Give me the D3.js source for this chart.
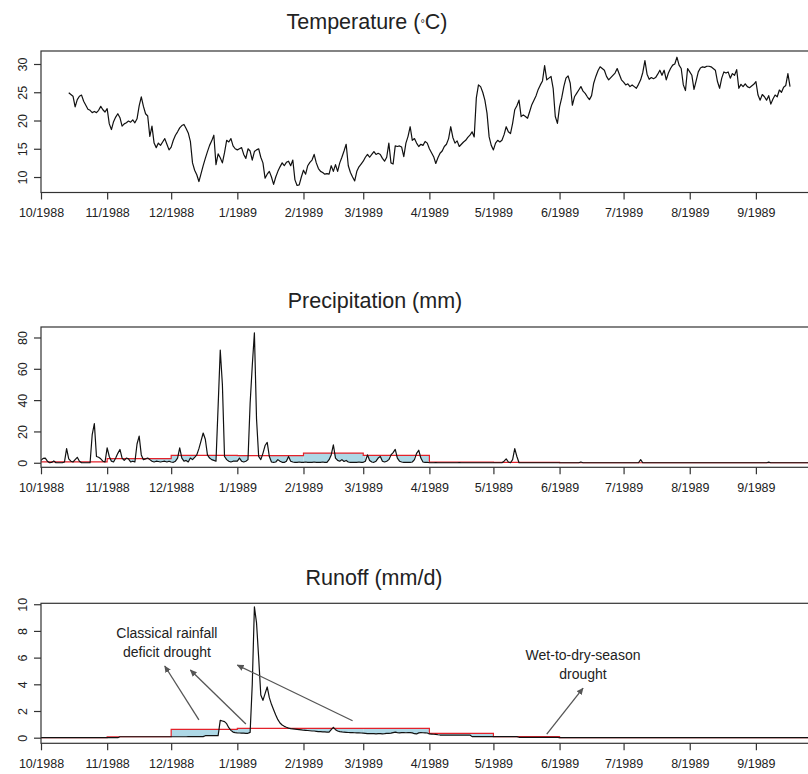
<!DOCTYPE html>
<html>
<head>
<meta charset="utf-8">
<script src="https://cdn.jsdelivr.net/npm/d3@7"></script>
<style>
  body { margin: 0; background: #fff; }
  svg { display: block; }
  text { font-family: "Liberation Sans", Arial, sans-serif; fill: #222; }
</style>
</head>
<body>
<svg id="chart" width="808" height="774"></svg>
<script>
// ---- data -------------------------------------------------------------
// Hydrological year 1 Oct 1988 - 30 Sep 1989, daily series (index = day of year)
const yearStart = new Date(Date.UTC(1988, 9, 1));
const dayCount = 365;

const monthLabels = ["10/1988", "11/1988", "12/1988", "1/1989", "2/1989", "3/1989",
                     "4/1989", "5/1989", "6/1989", "7/1989", "8/1989", "9/1989"];

// Daily mean temperature (°C), first value on day 13 (14 Oct 1988)
const temperatureFirstDay = 13;
const temperature = [
  24.9, 24.6, 24.3, 22.4, 23.7, 24.3, 24.5, 23.4,
  22.7, 22.0, 21.8, 21.4, 21.6, 21.4, 21.8, 22.5, 21.9, 21.5,
  22.1, 19.4, 18.4, 19.8, 20.6, 21.2, 20.5, 19.0, 19.4, 19.6,
  19.9, 19.7, 20.1, 19.6, 20.3, 22.6, 24.2, 22.5, 21.2, 20.8,
  17.2, 19.0, 16.0, 15.2, 16.0, 15.6, 16.2, 16.8, 15.8, 14.8,
  15.3, 16.5, 17.4, 18.0, 18.7, 19.1, 19.3, 18.6, 17.8, 16.3,
  12.5, 11.2, 10.4, 9.2, 10.6, 12.0, 13.3, 14.5, 15.6, 16.4,
  17.4, 12.2, 14.1, 13.4, 12.5, 14.3, 16.5, 16.2, 16.8, 15.5,
  15.0, 14.8, 15.0, 15.2, 14.0, 13.3, 15.0, 14.6, 13.0, 14.5,
  14.8, 15.0, 13.5, 12.5, 9.8, 10.5, 11.0, 10.0, 8.7, 10.0,
  11.0, 11.8, 12.5, 12.0, 12.6, 12.8, 12.0, 13.0, 9.5, 8.5,
  8.6, 10.0, 11.2, 10.5, 12.0, 12.6, 13.0, 14.0, 12.5, 11.5,
  11.0, 10.8, 10.5, 10.6, 10.5, 12.0, 11.0, 12.2, 11.0, 12.5,
  13.5, 14.6, 15.8, 12.0, 10.8, 10.0, 9.3, 11.0, 11.8, 12.3,
  12.8, 13.5, 14.0, 13.5, 14.0, 14.5, 14.0, 14.2, 14.0, 13.3,
  12.8, 13.5, 16.0, 12.5, 12.3, 15.5, 15.4, 15.5, 15.3, 13.6,
  16.0, 17.2, 18.9, 16.5, 16.8, 16.0, 15.4, 15.8, 15.6, 16.3,
  16.0, 15.0, 14.3, 13.6, 12.4, 13.4, 14.2, 14.6, 15.4, 15.8,
  16.8, 18.9, 17.0, 16.0, 16.4, 15.4, 15.8, 16.2, 16.5, 17.0,
  17.4, 18.0, 17.1, 24.0, 26.3, 26.0, 25.0, 23.6, 21.3, 17.1,
  15.6, 14.8, 16.0, 16.5, 16.2, 16.5, 17.5, 18.9, 18.0, 17.7,
  19.5, 21.9, 22.6, 23.6, 20.7, 21.0, 20.7, 20.4, 21.6, 22.8,
  23.6, 24.4, 25.5, 26.3, 27.0, 29.7, 27.2, 27.5, 27.8, 25.7,
  20.7, 19.5, 22.4, 24.0, 26.0, 27.5, 27.9, 26.6, 22.7, 24.2,
  24.8, 25.4, 26.0, 25.2, 24.8, 24.2, 23.7, 24.4, 26.6, 27.8,
  28.8, 29.5, 29.2, 28.9, 27.8, 27.2, 27.6, 28.0, 28.4, 29.2,
  28.2, 27.2, 26.8, 26.3, 26.5, 26.0, 26.3, 26.0, 25.7, 26.4,
  27.2, 28.5, 30.6, 28.2, 27.3, 27.6, 27.4, 27.6, 28.2, 28.9,
  28.0, 28.9, 27.2, 28.4, 29.2, 29.8, 30.0, 31.2, 29.8, 29.2,
  26.3, 25.3, 29.2, 28.6, 28.0, 25.5, 27.0, 28.6, 29.3, 29.5,
  29.4, 29.6, 29.6, 29.5, 29.2, 28.9, 26.9, 25.7, 27.5, 28.6,
  28.4, 28.6, 27.5, 28.3, 28.0, 29.0, 25.7, 26.4, 26.0, 26.5,
  26.0, 25.8, 26.1, 26.4, 26.9, 24.5, 23.6, 24.6, 24.2, 23.6,
  24.4, 22.9, 23.8, 24.5, 24.2, 25.4, 25.0, 25.9, 26.2, 28.3,
  26.0
];

// Daily precipitation (mm)
const precipitation = [
  // Oct
  1.5, 2.8, 3, 1, 0, 0.2, 1.2, 0, 0, 0, 0, 0.5, 9, 2.5, 1, 0.5, 2, 3.5, 1, 0,
  0, 0, 0, 0, 18, 25, 4, 3.5, 2.5, 1, 0.5,
  // Nov
  9.5, 4, 1, 0.5, 3, 6, 8.5, 3, 1.5, 3, 2.5, 0.5, 1, 0.5, 12, 17, 5, 2, 2.5, 3,
  2, 1, 0.5, 1, 0.8, 0.5, 0.8, 1, 0.5, 1,
  // Dec
  0.5, 0.3, 1, 3, 9.5, 3, 1, 1.5, 0.5, 3, 2, 3.5, 5, 9, 14, 19, 15, 5, 3, 2,
  1.5, 1, 36, 72, 50, 4, 2, 1, 0.5, 1, 1,
  // Jan
  1, 3, 1, 0.5, 1, 2, 38, 62, 83, 28, 4, 2, 6, 11, 13, 4, 0.5, 0.3, 0.5, 2,
  1, 0.3, 0.2, 1, 4, 1, 0.5, 0.3, 0.3, 0.5, 0.3,
  // Feb
  0.3, 0.5, 0.2, 0.3, 0.2, 0.5, 0.3, 0.2, 0.3, 0.5, 0.2, 0.3, 2, 5, 11.5, 3, 1.5, 1, 2, 0.8,
  1.5, 0.5, 0.2, 0.3, 0.2, 0.3, 0.5, 0.3,
  // Mar
  0.3, 1, 5, 1.5, 0.5, 0.3, 1, 3, 4, 1, 0.5, 1, 2, 5, 6.5, 8.5, 3, 1, 0.5, 0.3,
  0.2, 0.3, 0.2, 0.5, 2, 6, 8, 3, 0.5, 0.2, 0.3,
  // Apr
  0, 0, 0, 0.1, 0, 0, 0, 0, 0, 0, 0, 0, 0, 0, 0.1, 0, 0, 0, 0, 0,
  0, 0, 0, 0, 0, 0, 0, 0, 0, 0,
  // May
  0, 0, 0, 0, 0, 1, 2.5, 0.5, 0, 2, 9, 4, 0, 0, 0, 0, 0, 0, 0, 0,
  0, 0, 0, 0, 0, 0, 0, 0, 0, 0, 0,
  // Jun
  0, 0, 0, 0, 0, 0, 0, 0, 0, 0, 0.5, 0, 0, 0, 0, 0, 0, 0, 0, 0,
  0, 0, 0, 0, 0, 0, 0, 0, 0, 0,
  // Jul
  0, 0, 0, 0, 0, 0, 0, 0, 2, 0, 0, 0, 0, 0, 0, 0, 0, 0, 0, 0,
  0, 0, 0, 0, 0, 0, 0, 0, 0, 0, 0,
  // Aug
  0, 0, 0, 0, 0, 0, 0, 0, 0, 0, 0, 0, 0, 0, 0, 0, 0, 0, 0, 0,
  0, 0, 0, 0, 0, 0, 0, 0, 0, 0, 0,
  // Sep
  0, 0, 0, 0, 0, 0, 0.4, 0, 0, 0, 0, 0, 0, 0, 0, 0, 0, 0, 0, 0,
  0, 0, 0, 0, 0, 0, 0, 0, 0, 0
];

// Monthly precipitation threshold (mm), Oct ... Sep
const precipThreshold = [0.6, 2.6, 4.7, 4.5, 6.2, 4.7, 0.4, 0.2, 0, 0, 0, 0];

// Daily runoff (mm/d)
const runoff = [
  // Oct
  0, 0, 0, 0, 0, 0, 0, 0, 0, 0, 0, 0, 0, 0, 0, 0, 0, 0, 0, 0,
  0, 0, 0, 0, 0, 0, 0, 0, 0, 0, 0,
  // Nov
  0, 0, 0, 0, 0, 0, 0.07, 0.07, 0.07, 0.07, 0.07, 0.07, 0.07, 0.07, 0.07, 0.07, 0.07, 0.07, 0.07, 0.07,
  0.07, 0.07, 0.07, 0.07, 0.07, 0.07, 0.07, 0.07, 0.07, 0.07,
  // Dec
  0.07, 0.07, 0.07, 0.07, 0.07, 0.07, 0.07, 0.07, 0.08, 0.08, 0.08, 0.08, 0.08, 0.08, 0.08, 0.08,
  0.15, 0.15, 0.15, 0.15, 0.15, 0.15, 0.15, 1.3, 1.25, 1.2, 1.05, 0.75, 0.55, 0.42, 0.38,
  // Jan
  0.36, 0.35, 0.34, 0.34, 0.33, 0.33, 0.4, 4.0, 9.8, 8.6, 6.0, 3.2, 2.8, 3.3, 3.8, 3.0,
  2.5, 2.1, 1.7, 1.35, 1.1, 0.95, 0.85, 0.78, 0.72, 0.68, 0.66, 0.64, 0.62, 0.6, 0.58,
  // Feb
  0.56, 0.55, 0.54, 0.52, 0.5, 0.5, 0.48, 0.46, 0.45, 0.44, 0.43, 0.42, 0.42, 0.6, 0.78, 0.6,
  0.5, 0.46, 0.43, 0.41, 0.4, 0.39, 0.38, 0.38, 0.37, 0.36, 0.36, 0.35,
  // Mar
  0.34, 0.33, 0.3, 0.3, 0.31, 0.3, 0.29, 0.3, 0.3, 0.29, 0.3, 0.32, 0.33, 0.34, 0.38, 0.42,
  0.38, 0.36, 0.38, 0.38, 0.37, 0.38, 0.38, 0.36, 0.3, 0.28, 0.36, 0.38, 0.37, 0.36, 0.35,
  // Apr
  0.28, 0.27, 0.26, 0.25, 0.22, 0.2, 0.2, 0.2, 0.2, 0.2, 0.2, 0.2, 0.2, 0.2, 0.2,
  0.2, 0.2, 0.2, 0.2, 0.2, 0.08, 0.08, 0.08, 0.08, 0.08, 0.08, 0.08, 0.08, 0.08, 0.08,
  // May
  0.08, 0.08, 0.08, 0.08, 0.08, 0.08, 0.08, 0.08, 0.08, 0.08, 0.08, 0.08,
  0.03, 0.03, 0.03, 0.03, 0.03, 0.03, 0.03, 0.03, 0.03, 0.03, 0.03, 0.03, 0.03, 0.03,
  0.03, 0.03, 0.03, 0.03, 0.03,
  // Jun
  0, 0, 0, 0, 0, 0, 0, 0, 0, 0, 0, 0, 0, 0, 0, 0, 0, 0, 0, 0,
  0, 0, 0, 0, 0, 0, 0, 0, 0, 0,
  // Jul
  0, 0, 0, 0, 0, 0, 0, 0, 0, 0, 0, 0, 0, 0, 0, 0, 0, 0, 0, 0,
  0, 0, 0, 0, 0, 0, 0, 0, 0, 0, 0,
  // Aug
  0, 0, 0, 0, 0, 0, 0, 0, 0, 0, 0, 0, 0, 0, 0, 0, 0, 0, 0, 0,
  0, 0, 0, 0, 0, 0, 0, 0, 0, 0, 0,
  // Sep
  0, 0, 0, 0, 0, 0, 0, 0, 0, 0, 0, 0, 0, 0, 0, 0, 0, 0, 0, 0,
  0, 0, 0, 0, 0, 0, 0, 0, 0, 0
];

// Monthly runoff threshold (mm/d), Oct ... Sep
const runoffThreshold = [0, 0.07, 0.63, 0.7, 0.7, 0.7, 0.33, 0.08, 0, 0, 0, 0];

// Drought annotations: label lines (centre date, value) and arrows (tail -> head)
const annotationLabels = [
  { text: "Classical rainfall", date: "1988-11-29", value: 7.47 },
  { text: "deficit drought",    date: "1988-11-29", value: 6.04 },
  { text: "Wet-to-dry-season",  date: "1989-06-12", value: 5.82 },
  { text: "drought",            date: "1989-06-12", value: 4.40 }
];
const annotationArrows = [
  { from: ["1988-12-14", 1.33], to: ["1988-11-28", 5.37] },
  { from: ["1989-01-05", 1.03], to: ["1988-12-10", 5.07] },
  { from: ["1989-02-24", 1.27], to: ["1989-01-01", 5.44] },
  { from: ["1989-05-26", 0.27], to: ["1989-06-12", 3.71] }
];

// ---- layout -----------------------------------------------------------
const plotLeft = 41;
const pxPerDay = 2.134;
const panels = [
  { key: "temp",   title: "Temperature (°C)", titleX: 367, titleY: 28.5, top: 51,    bottom: 192.5, domain: [7.26, 32.3],  ticks: [10, 15, 20, 25, 30] },
  { key: "precip", title: "Precipitation (mm)", titleX: 375, titleY: 308, top: 327, bottom: 467.3, domain: [-2.9, 86.7], ticks: [0, 20, 40, 60, 80] },
  { key: "runoff", title: "Runoff (mm/d)", titleX: 374, titleY: 585, top: 603.3, bottom: 743.3, domain: [-0.42, 10.07], ticks: [0, 2, 4, 6, 8, 10] }
];

const svg = d3.select("#chart");
const dayDate = i => d3.utcDay.offset(yearStart, i);
const parse = d3.utcParse("%Y-%m-%d");

const x = d3.scaleUtc()
  .domain([yearStart, dayDate(dayCount - 1)])
  .range([plotLeft, plotLeft + (dayCount - 1) * pxPerDay]);

const monthStarts = d3.range(12).map(m => d3.utcMonth.offset(yearStart, m));
const dayIndex = d => Math.round((d - yearStart) / 864e5);

const defs = svg.append("defs");
defs.append("marker")
  .attr("id", "arrowhead")
  .attr("viewBox", "0 0 10 10")
  .attr("refX", 9).attr("refY", 5)
  .attr("markerWidth", 7).attr("markerHeight", 7)
  .attr("markerUnits", "userSpaceOnUse")
  .attr("orient", "auto")
  .append("path")
  .attr("d", "M0,0.5 L10,5 L0,9.5 Z")
  .attr("fill", "#555");

const axisColor = "#333";

panels.forEach(p => {
  const y = d3.scaleLinear().domain(p.domain).range([p.bottom, p.top]);
  p.y = y;
  const g = svg.append("g");

  defs.append("clipPath").attr("id", "clip-" + p.key)
    .append("rect")
    .attr("x", plotLeft).attr("y", p.top)
    .attr("width", 808 - plotLeft + 20).attr("height", p.bottom - p.top);
  p.plot = g.append("g").attr("clip-path", `url(#clip-${p.key})`);

  // title; the degree sign is set small and raised to mid height
  const t = g.append("text")
    .attr("x", p.titleX).attr("y", p.titleY)
    .attr("text-anchor", "middle")
    .attr("font-size", "21.5px");
  if (p.key === "temp") {
    t.append("tspan").text("Temperature (");
    t.append("tspan").attr("font-size", "11px").attr("dy", -1.5).text("°");
    t.append("tspan").attr("dy", 1.5).text("C)");
  } else {
    t.text(p.title);
  }

  // y axis ticks and rotated labels
  const yAxis = d3.axisLeft(y).tickValues(p.ticks).tickSize(7).tickSizeOuter(0);
  const ya = g.append("g").attr("transform", `translate(${plotLeft},0)`).call(yAxis);
  ya.select(".domain").remove();
  ya.selectAll("line").attr("stroke", axisColor).attr("stroke-width", 1.2);
  ya.selectAll("text")
    .attr("font-size", "12.5px")
    .attr("fill", "#333")
    .attr("text-anchor", "middle")
    .attr("x", 0).attr("y", 0).attr("dy", 0)
    .attr("transform", "translate(-14,0) rotate(-90)");

  // x axis with month ticks
  const xAxis = d3.axisBottom(x).tickValues(monthStarts)
    .tickFormat((d, i) => monthLabels[i]).tickSize(7).tickPadding(9).tickSizeOuter(0);
  const xa = g.append("g").attr("transform", `translate(0,${p.bottom})`).call(xAxis);
  xa.select(".domain").remove();
  xa.selectAll("line").attr("stroke", axisColor).attr("stroke-width", 1.2);
  xa.selectAll("text").attr("font-size", "12.5px").attr("fill", "#333");

  // frame
  g.append("rect")
    .attr("x", plotLeft).attr("y", p.top)
    .attr("width", x.range()[1] - plotLeft).attr("height", p.bottom - p.top)
    .attr("fill", "none").attr("stroke", axisColor).attr("stroke-width", 1.2);
});

// ---- temperature --------------------------------------------------------
const tempPanel = panels[0];
tempPanel.plot.append("path")
  .datum(temperature)
  .attr("fill", "none")
  .attr("stroke", "#111")
  .attr("stroke-width", 1.2)
  .attr("stroke-linejoin", "round")
  .attr("d", d3.line()
    .x((d, i) => x(dayDate(temperatureFirstDay + i)))
    .y(d => tempPanel.y(d)));

// ---- deficit panels ----------------------------------------------------
function drawDeficit(panel, series, thresholds) {
  const y = panel.y;
  const fillArea = d3.area()
    .x(d => x(dayDate(d.day)))
    .y0(d => y(Math.min(d.v, d.t)))
    .y1(d => y(d.t));

  const stepPoints = [];
  thresholds.forEach((t, m) => {
    const a = dayIndex(monthStarts[m]);
    const b = m < 11 ? dayIndex(monthStarts[m + 1]) : dayCount - 1;
    stepPoints.push([a, t], [b, t]);

    // series points inside the month, plus crossings with the threshold
    const pts = [];
    for (let d = a; d <= b; d++) {
      const v = series[d];
      if (d > a) {
        const pv = series[d - 1];
        if ((pv - t) * (v - t) < 0) {
          const f = (t - pv) / (v - pv);
          pts.push({ day: d - 1 + f, v: t, t });
        }
      }
      pts.push({ day: d, v, t });
    }
    panel.plot.append("path")
      .datum(pts)
      .attr("fill", "#add8e6")
      .attr("stroke", "none")
      .attr("d", fillArea);
  });

  panel.plot.append("path")
    .datum(stepPoints)
    .attr("fill", "none")
    .attr("stroke", "#e3222b")
    .attr("stroke-width", 1.2)
    .attr("d", d3.line().x(d => x(dayDate(d[0]))).y(d => y(d[1])));

  panel.plot.append("path")
    .datum(series)
    .attr("fill", "none")
    .attr("stroke", "#111")
    .attr("stroke-width", 1.2)
    .attr("stroke-linejoin", "round")
    .attr("d", d3.line().x((d, i) => x(dayDate(i))).y(d => y(d)));
}

drawDeficit(panels[1], precipitation, precipThreshold);
drawDeficit(panels[2], runoff, runoffThreshold);

// ---- annotations -------------------------------------------------------
const runoffPanel = panels[2];
svg.append("g").selectAll("line")
  .data(annotationArrows)
  .join("line")
  .attr("x1", d => x(parse(d.from[0])))
  .attr("y1", d => runoffPanel.y(d.from[1]))
  .attr("x2", d => x(parse(d.to[0])))
  .attr("y2", d => runoffPanel.y(d.to[1]))
  .attr("stroke", "#555")
  .attr("stroke-width", 1.3)
  .attr("marker-end", "url(#arrowhead)");

svg.append("g").selectAll("text")
  .data(annotationLabels)
  .join("text")
  .attr("x", d => x(parse(d.date)))
  .attr("y", d => runoffPanel.y(d.value))
  .attr("text-anchor", "middle")
  .attr("font-size", "14px")
  .text(d => d.text);
</script>
</body>
</html>
